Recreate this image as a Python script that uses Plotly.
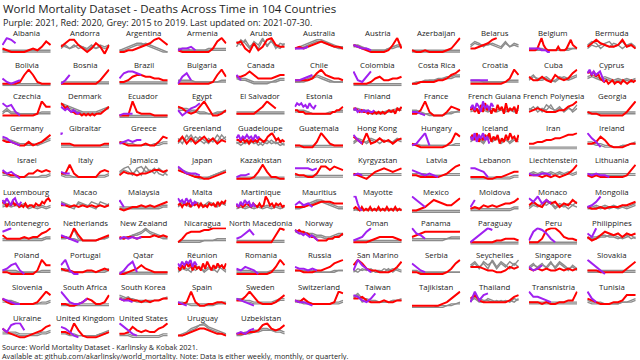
import plotly.graph_objects as go

countries = [
    "Albania", "Andorra", "Argentina", "Armenia", "Aruba", "Australia", "Austria", "Azerbaijan", "Belarus", "Belgium", "Bermuda",
    "Bolivia", "Bosnia", "Brazil", "Bulgaria", "Canada", "Chile", "Colombia", "Costa Rica", "Croatia", "Cuba", "Cyprus",
    "Czechia", "Denmark", "Ecuador", "Egypt", "El Salvador", "Estonia", "Finland", "France", "French Guiana", "French Polynesia", "Georgia",
    "Germany", "Gibraltar", "Greece", "Greenland", "Guadeloupe", "Guatemala", "Hong Kong", "Hungary", "Iceland", "Iran", "Ireland",
    "Israel", "Italy", "Jamaica", "Japan", "Kazakhstan", "Kosovo", "Kyrgyzstan", "Latvia", "Lebanon", "Liechtenstein", "Lithuania",
    "Luxembourg", "Macao", "Malaysia", "Malta", "Martinique", "Mauritius", "Mayotte", "Mexico", "Moldova", "Monaco", "Mongolia",
    "Montenegro", "Netherlands", "New Zealand", "Nicaragua", "North Macedonia", "Norway", "Oman", "Panama", "Paraguay", "Peru", "Philippines",
    "Poland", "Portugal", "Qatar", "Réunion", "Romania", "Russia", "San Marino", "Serbia", "Seychelles", "Singapore", "Slovakia",
    "Slovenia", "South Africa", "South Korea", "Spain", "Sweden", "Switzerland", "Taiwan", "Tajikistan", "Thailand", "Transnistria", "Tunisia",
    "Ukraine", "United Kingdom", "United States", "Uruguay", "Uzbekistan",
]

# Values are relative levels 0-9 within each panel (each panel has its own scale).
red_2020 = [
    "321111232475", "468853136405", "112234568975", "211111113796", "673162489544", "343456765443", "543211112593", "211211112369", "3345689", "222236953222224222368543", "468654458453",
    "111126962111", "111111111369", "223566554433", "111111112695", "556864444566", "333347965443", "111124533445", "112222334679", "111111112496", "533532643479", "786857432312312213212323",
    "111111112966", "875643322212121212223456", "111932221111", "653236951124", "2222246975", "443332222222222222334456", "554343323232323234342546", "224931113654", "463527384625374628354627", "345433344679", "322111111369",
    "544322423468", "333222222233", "432222322476", "473635746354", "554645354546545789756454", "221114963222", "753934645356", "321111112497", "685947586947583648596748", "334455667889", "334752111233",
    "543322446565", "449422222565", "354434456656", "654322112345", "111125952211", "433224886876", "432135676567", "332222234689", "222211223455", "333232323469", "323222222369",
    "563546453435344354465786", "443434343434", "212334343456", "453546354535343545364657", "435345435435349745354534", "333445666555", "232131213121312131213121", "112357654468", "232434345568", "464375635475", "322323334456",
    "533334344679", "443952222345", "434434445454", "136777889999", "111111111598", "878776654432222233344456", "111123444432", "456777777777", "111111223332", "111389974332", "423576564656",
    "221111113966", "433222332343", "112346432222", "536485736453748536475647", "111111112596", "332223345789", "697433222358", "221111112479", "555433223545", "434343343434", "333222222468",
    "532222223697", "221123542237", "545443434455", "223931122332", "446963222357", "435322222398", "556433343344", "111111123579", "574333333467", "333232233449", "543222334777",
    "643211234578", "443952111234", "334754544679", "223456654332", "333445896568",
]

purple_2021 = [
    "5986", "", "", "23342", "", "3334", "54332", "", "", "33333322211", "",
    "42123", "136", "478876", "1573", "63", "33456", "83258", "", "33333", "", "796867852",
    "86731", "6545434323", "1222", "413568", "", "68786758657", "45343434334", "3321", "574863957486", "", "",
    "76432", "9", "345455", "", "685768675867", "", "853", "23692", "7594869573", "", "9641",
    "64531", "544", "", "864443", "2334", "777767", "343", "6543432", "77652", "433443", "434332",
    "7586478546", "54", "73", "8675867465", "5364756353", "46453", "99521", "9753", "37", "869575", "3469",
    "789", "54321", "343434", "", "34685", "876656545432", "23479", "9653", "135798", "2798631", "649",
    "346731", "69311", "13682", "7586879586", "435431", "544343", "39642", "7532", "", "5346", "97531",
    "54322", "9632235", "5443", "321", "54321", "43321", "764358", "", "39478", "966543", "953",
    "648995", "76421", "97532", "", "34356",
]

grey_2015_2019_low = [
    "111111111111", "543454353434", "234566543211", "222222222222", "486375948365", "334567765433", "443322223344", "111111111111", "576465436454", "333322222333", "576354657453",
    "111111111111", "111111111111", "111111111111", "222222222222", "544322222344", "222345432222", "111111111111", "112233344455", "222222222222", "354453245456", "565454343434",
    "353322222333", "876543333456", "000000000000", "555443322334", "222222222222", "333322222333", "554433334455", "332211112233", "343434343434", "546375463547", "222222222222",
    "544322232345", "111111111111", "332222222233", "638475364857", "343534253423", "222222222222", "465354645354", "222222222222", "576485746354", "111111111111", "443322112233",
    "443322222334", "433222222334", "578463857436", "765432223456", "111111111111", "222222222222", "333333333333", "333333333333", "222222222233", "343434343434", "333333333333",
    "454545343434", "654354365435", "333333333344", "354354354354", "343434343434", "334567765433", "121212121212", "111111111111", "222222222233", "354365243546", "334343434345",
    "333333333344", "334832222334", "344567976544", "111111222222", "222222222222", "877665544566", "111111111111", "333333333444", "111111111111", "111111111111", "344554434534",
    "222222222222", "443222222334", "111111111111", "354264354263", "222222222222", "333332222333", "243423324243", "222222222222", "685749586475", "574658475364", "333333333333",
    "444322222334", "111111111111", "765544444456", "332222222233", "554433333455", "443322222334", "685544333444", "000000111222", "365443434354", "333333333333", "433322223345",
    "333322222334", "332222222334", "333222222233", "234678976543", "223344555443",
]

grey_2015_2019_high = [
    "222222222222", "353534243545", "223455654321", "333222233333", "758463857436", "345678876544", "554322223455", "222222222222", "465556547465", "322222222233", "354567453564",
    "000000000000", "222222222222", "222222222222", "333322222233", "433211112233", "223456543222", "000000000000", "122333445566", "333222222333", "463342354345", "454343232323",
    "242222222222", "765432222345", "111111111111", "444332222233", "333333333333", "444322223344", "443322223344", "443221112334", "454545454545", "463547354635", "333333333333",
    "655433223456", "222222222222", "443322223344", "365847536485", "424352435342", "111111111111", "354465354465", "332222222233", "465374635465", "000000000000", "332211112234",
    "332222222223", "322222222223", "465378564753", "654321123456", "222222222222", "333333333333", "444444444444", "444433334444", "111111111122", "454545454545", "444444444444",
    "343434232323", "543265432654", "222222222233", "465465465465", "232323232323", "223456654322", "212121212121", "000000000000", "111111111122", "243546354243", "223232323234",
    "222222222233", "443322222334", "334556865433", "122222222333", "111111111111", "766554433455", "222222222222", "222222223333", "000000000000", "000000000000", "433445543453",
    "333322222333", "332222222223", "222222222222", "243535243542", "333322223333", "332222222233", "324342243432", "332222222222", "574868475869", "465747586453", "222222222222",
    "333322222223", "222222222222", "656433334455", "222111111222", "443322222344", "332222222223", "573433333445", "000000001123", "453354343435", "222222222222", "322222223334",
    "444433333445", "443322222345", "222111111122", "223568865432", "334455665554",
]

TITLE = "World Mortality Dataset - Deaths Across Time in 104 Countries"
SUBTITLE = "Purple: 2021, Red: 2020, Grey: 2015 to 2019. Last updated on: 2021-07-30."
SOURCE1 = "Source: World Mortality Dataset - Karlinsky & Kobak 2021."
SOURCE2 = "Available at: github.com/akarlinsky/world_mortality. Note: Data is either weekly, monthly, or quarterly."

W, H = 640, 360
NCOL = 11
X0, COL_STEP, PANEL_W = 2.0, 58.5, 49.0
TOP0, ROW_STEP, PANEL_H = 37.3, 31.7, 17.2
FONT = "Open Sans"
RED, PURPLE, GREY = "#FF0000", "#A020F0", "#8C8C8C"


def levels(s):
    return [int(ch) for ch in s]


fig = go.Figure()
annotations = []
layout_axes = {}

for k, name in enumerate(countries):
    r, c = divmod(k, NCOL)
    sfx = "" if k == 0 else str(k + 1)
    left = X0 + c * COL_STEP
    top = TOP0 + r * ROW_STEP
    layout_axes["xaxis" + sfx] = dict(domain=[left / W, (left + PANEL_W) / W], range=[-0.01, 1.01],
                                      visible=False, fixedrange=True, anchor="y" + sfx)
    layout_axes["yaxis" + sfx] = dict(domain=[1 - (top + PANEL_H) / H, 1 - top / H], range=[-0.4, 9.4],
                                      visible=False, fixedrange=True, anchor="x" + sfx)
    xa, ya = "x" + sfx, "y" + sfx

    for g in (grey_2015_2019_low[k], grey_2015_2019_high[k]):
        gv = levels(g)
        n = len(gv)
        fig.add_trace(go.Scatter(x=[i / (n - 1) for i in range(n)], y=gv, mode="lines",
                                 line=dict(color=GREY, width=1.4), xaxis=xa, yaxis=ya,
                                 hoverinfo="skip", showlegend=False))
    rv = levels(red_2020[k])
    nr = len(rv)
    step = 1 / (nr - 1) if nr > 1 else 1
    if nr < 12 and name in ("Belarus", "El Salvador"):
        step = 1 / 11
    fig.add_trace(go.Scatter(x=[i * step for i in range(nr)], y=rv, mode="lines",
                             line=dict(color=RED, width=2), xaxis=xa, yaxis=ya,
                             hoverinfo="skip", showlegend=False))
    pv = levels(purple_2021[k])
    if pv:
        fig.add_trace(go.Scatter(x=[i * step for i in range(len(pv))], y=pv,
                                 mode="lines" if len(pv) > 1 else "markers",
                                 line=dict(color=PURPLE, width=2), marker=dict(color=PURPLE, size=4),
                                 xaxis=xa, yaxis=ya, hoverinfo="skip", showlegend=False))
    annotations.append(dict(text=name, x=(left + PANEL_W / 2) / W, y=1 - (top - 4.3) / H,
                            xref="paper", yref="paper", xanchor="center", yanchor="middle",
                            showarrow=False, borderpad=0,
                            font=dict(family=FONT, size=7.8, color="#222222")))

annotations += [
    dict(text=TITLE, x=2 / W, y=1 - 8 / H, xref="paper", yref="paper", xanchor="left", yanchor="middle",
         showarrow=False, borderpad=0, font=dict(family=FONT, size=11.5, color="#222222")),
    dict(text=SUBTITLE, x=2 / W, y=1 - 22.5 / H, xref="paper", yref="paper", xanchor="left", yanchor="middle",
         showarrow=False, borderpad=0, font=dict(family=FONT, size=9, color="#222222")),
    dict(text=SOURCE1, x=1 / W, y=1 - 347 / H, xref="paper", yref="paper", xanchor="left", yanchor="middle",
         showarrow=False, borderpad=0, font=dict(family=FONT, size=7.3, color="#222222")),
    dict(text=SOURCE2, x=1 / W, y=1 - 356 / H, xref="paper", yref="paper", xanchor="left", yanchor="middle",
         showarrow=False, borderpad=0, font=dict(family=FONT, size=7.3, color="#222222")),
]

fig.update_layout(width=W, height=H, margin=dict(l=0, r=0, t=0, b=0),
                  paper_bgcolor="white", plot_bgcolor="white",
                  annotations=annotations, **layout_axes)

fig.write_html("out.html", config={"displayModeBar": False},
               post_script="document.body.style.margin='0';document.body.style.overflow='hidden';")
